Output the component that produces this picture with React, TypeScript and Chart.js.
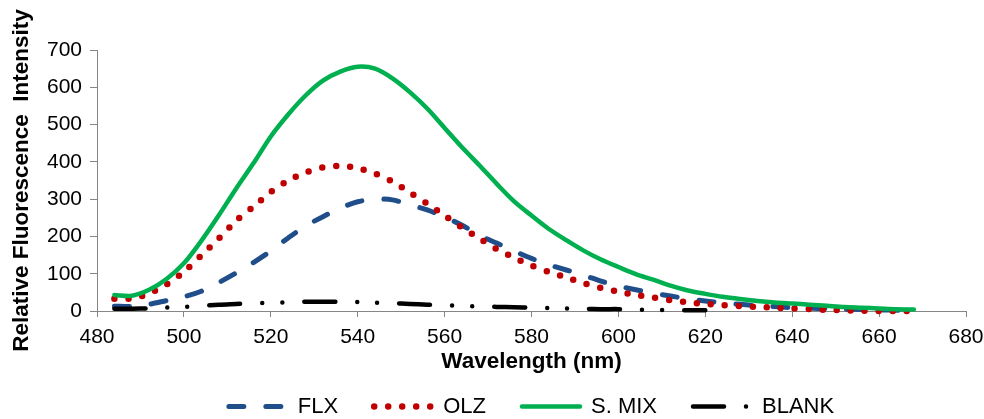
import { useEffect, useRef } from "react";
import { Chart, registerables } from "chart.js";

Chart.register(...registerables);

// Wavelength (nm) sample points
const wavelengths = [
  484, 488, 492, 496, 500, 504, 508, 512, 516, 520,
  524, 528, 532, 536, 540, 544, 548, 552, 556, 560,
  564, 568, 572, 576, 580, 584, 588, 592, 596, 600,
  604, 608, 612, 616, 620, 624, 628, 632, 636, 640,
  644, 648, 652, 656, 660, 664, 668,
];

const flx = [
  13, 12, 18, 28, 38, 53, 76, 102, 130, 161,
  196, 228, 253, 276, 293, 300, 298, 285, 271, 252,
  230, 203, 182, 161, 141, 124, 110, 96, 80, 67,
  57, 48, 40, 33, 27, 22, 18, 14, 12, 9,
  8, 6, 5, 4, 3, 2, 2,
];

const olz = [
  33, 34, 47, 71, 105, 149, 194, 242, 280, 319,
  350, 371, 385, 389, 383, 369, 347, 318, 288, 256,
  224, 195, 166, 143, 122, 105, 90, 75, 62, 52,
  43, 36, 29, 23, 19, 16, 13, 11, 9, 7,
  5, 3, 2, 1, 0, 0, 0,
];

const sMix = [
  43, 41, 57, 86, 128, 188, 256, 328, 396, 468,
  527, 578, 618, 642, 655, 650, 624, 587, 543, 491,
  439, 391, 341, 294, 256, 220, 190, 162, 138, 118,
  99, 84, 68, 55, 46, 38, 32, 27, 23, 20,
  17, 14, 11, 9, 7, 5, 4,
];

const blank = [
  6, 6, 7, 9, 11, 14, 17, 19, 21, 22,
  23, 25, 25, 25, 24, 22, 21, 19, 17, 15,
  14, 12, 11, 10, 9, 8, 7, 6, 5, 5,
  4, 3, 2, 2, 2,
];

const seriesLabels = ["FLX", "OLZ", "S. MIX", "BLANK"];
const xMin = 480;
const xMax = 680;
const xStep = 20;
const yMin = 0;
const yMax = 700;
const yStep = 100;

const FONT = "'Liberation Sans', Arial, Helvetica, sans-serif";
const AXIS = "#868686";

function toPoints(values: number[]) {
  return values.map((v, i) => ({ x: wavelengths[i], y: v }));
}

export default function App() {
  const ref = useRef<HTMLCanvasElement | null>(null);

  useEffect(() => {
    if (!ref.current) return;
    const datasets: any[] = [
      {
        label: seriesLabels[0],
        data: toPoints(flx),
        borderColor: "#1F4E8A",
        backgroundColor: "#1F4E8A",
        borderWidth: 5,
        borderDash: [15, 22],
        borderCapStyle: "round",
        order: 4,
      },
      {
        label: seriesLabels[1],
        data: toPoints(olz),
        borderColor: "#C00000",
        backgroundColor: "#C00000",
        borderWidth: 6.5,
        borderDash: [0, 14],
        borderCapStyle: "round",
        order: 3,
      },
      {
        label: seriesLabels[2],
        data: toPoints(sMix),
        borderColor: "#00B050",
        backgroundColor: "#00B050",
        borderWidth: 4.5,
        borderDash: [],
        borderCapStyle: "round",
        order: 2,
      },
      {
        label: seriesLabels[3],
        data: toPoints(blank),
        borderColor: "#000000",
        backgroundColor: "#000000",
        borderWidth: 4.5,
        borderDash: [31, 22, 0, 20, 0, 22],
        borderCapStyle: "round",
        order: 1,
      },
    ];

    const chart = new Chart(ref.current, {
      type: "line",
      data: { datasets },
      options: {
        animation: false,
        responsive: false,
        devicePixelRatio: 1,
        layout: { padding: { top: 50, right: 18, left: 0, bottom: -8.5 } },
        elements: {
          point: { radius: 0, hoverRadius: 0 },
          line: { tension: 0.3, borderJoinStyle: "round" },
        },
        datasets: { line: { clip: false } } as any,
        scales: {
          x: {
            type: "linear",
            min: xMin,
            max: xMax,
            ticks: {
              stepSize: xStep,
              color: "#000",
              font: { family: FONT, size: 21 },
              padding: 8,
              maxRotation: 0,
            },
            grid: { drawOnChartArea: false, tickLength: 6, color: AXIS },
            border: { color: AXIS, width: 1 },
            title: {
              display: true,
              text: "Wavelength (nm)",
              color: "#000",
              font: { family: FONT, size: 22.5, weight: "bold" },
              padding: { top: 0, bottom: -16 },
            },
            afterFit: (s: any) => {
              s.height = 48.5;
              s.paddingLeft = 0;
              s.paddingRight = 0;
            },
          },
          y: {
            min: yMin,
            max: yMax,
            ticks: {
              stepSize: yStep,
              color: "#000",
              font: { family: FONT, size: 21 },
              padding: 8,
            },
            grid: { drawOnChartArea: false, tickLength: 7, color: AXIS },
            border: { color: AXIS, width: 1 },
            title: {
              display: true,
              text: "Relative Fluorescence  Intensity",
              color: "#000",
              font: { family: FONT, size: 22.5, weight: "bold" },
              padding: { top: 8, bottom: 0 },
            },
            afterFit: (s: any) => {
              s.width = 97;
            },
          },
        },
        plugins: {
          tooltip: { enabled: false },
          legend: {
            position: "bottom",
            fullSize: false,
            labels: {
              usePointStyle: true,
              pointStyle: "line",
              pointStyleWidth: 58,
              boxHeight: 10,
              padding: 36,
              color: "#000",
              font: { family: FONT, size: 22 },
              generateLabels: (c: any) =>
                c.data.datasets.map((ds: any, i: number) => ({
                  text: ds.label,
                  fillStyle: ds.borderColor,
                  strokeStyle: ds.borderColor,
                  lineWidth: ds.borderWidth,
                  lineDash: ds.borderDash,
                  lineCap: ds.borderCapStyle,
                  pointStyle: "line",
                  rotation: 180,
                  fontColor: "#000",
                  hidden: false,
                  datasetIndex: i,
                })),
              sort: (a: any, b: any) => a.datasetIndex - b.datasetIndex,
            },
          },
        },
      } as any,
    });
    return () => chart.destroy();
  }, []);

  return (
    <div style={{ position: "absolute", left: 0, top: 0, width: 984, height: 419, background: "#fff" }}>
      <canvas ref={ref} width={984} height={419} style={{ display: "block" }} />
    </div>
  );
}
